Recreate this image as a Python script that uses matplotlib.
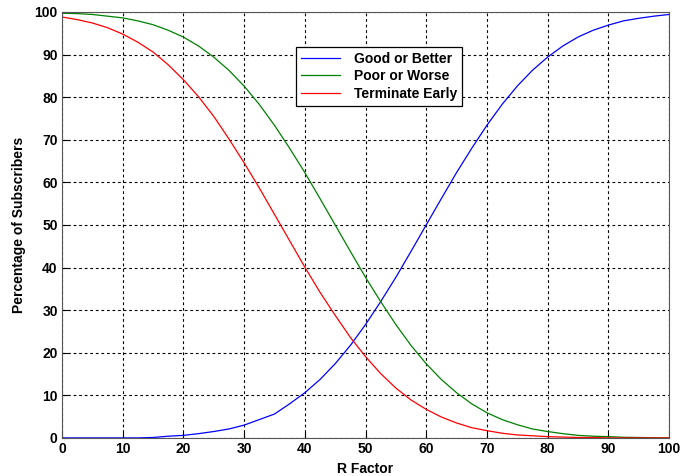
import matplotlib
matplotlib.use("Agg")
import matplotlib.pyplot as plt

plt.rcParams['font.family'] = ['Liberation Sans', 'DejaVu Sans']
plt.rcParams['font.weight'] = 'bold'

# values every 2.5 R units
r_factor = [0, 2.5, 5, 7.5, 10, 12.5, 15, 17.5, 20, 22.5, 25, 27.5, 30, 32.5,
            35, 37.5, 40, 42.5, 45, 47.5, 50, 52.5, 55, 57.5, 60, 62.5, 65,
            67.5, 70, 72.5, 75, 77.5, 80, 82.5, 85, 87.5, 90, 92.5, 95, 97.5, 100]
good_or_better = [0.0, 0.0, 0.0, 0.0, 0.0, 0.0, 0.1, 0.4, 0.6, 1.0, 1.5, 2.1, 3.0, 4.3,
                  5.6, 8.0, 10.6, 13.7, 17.4, 21.7, 26.6, 32.0, 37.7, 43.8, 50.0, 56.2, 62.3,
                  68.0, 73.4, 78.3, 82.6, 86.3, 89.4, 92.0, 94.1, 95.7, 96.9, 97.9, 98.5, 99.0, 99.4]
poor_or_worse = [99.7, 99.6, 99.4, 99.0, 98.6, 97.9, 97.0, 95.7, 94.1, 92.0, 89.4, 86.3, 82.6, 78.3,
                 73.4, 68.0, 62.3, 56.2, 50.0, 43.8, 37.7, 32.0, 26.6, 21.7, 17.4, 13.7, 10.6,
                 8.0, 5.9, 4.3, 3.1, 2.1, 1.5, 1.0, 0.6, 0.4, 0.3, 0.15, 0.1, 0.05, 0.0]
terminate_early = [98.8, 98.2, 97.4, 96.3, 94.8, 92.9, 90.6, 87.6, 84.1, 80.1, 75.5, 70.2, 64.6, 58.7,
                   52.5, 46.3, 40.1, 34.2, 28.8, 23.6, 19.1, 15.1, 11.7, 8.9, 6.7, 4.9, 3.5,
                   2.4, 1.7, 1.1, 0.7, 0.5, 0.3, 0.2, 0.1, 0.1, 0.0, 0.0, 0.0, 0.0, 0.0]

fig = plt.figure(figsize=(6.8, 4.76), dpi=100)
ax = fig.add_axes([0.091, 0.080, 0.893, 0.895])

ax.plot(r_factor, good_or_better, color='#0000ff', lw=0.9, label='Good or Better')
ax.plot(r_factor, poor_or_worse, color='#008000', lw=0.9, label='Poor or Worse')
ax.plot(r_factor, terminate_early, color='#ff0000', lw=0.9, label='Terminate Early')

ax.set_xlim(0, 100)
ax.set_ylim(0, 100)
ax.set_xticks(range(0, 101, 10))
ax.set_yticks(range(0, 101, 10))
ax.grid(True, color='black', linestyle=(0, (2.5, 2.5)), lw=0.8)
ax.tick_params(direction='in', length=4, labelsize=10, pad=3)
for s in ax.spines.values():
    s.set_color('#555555')

ax.set_xlabel('R Factor', fontsize=10, fontweight='bold', labelpad=4)
ax.set_ylabel('Percentage of Subscribers', fontsize=10, fontweight='bold', labelpad=6)

leg = ax.legend(loc='upper left', bbox_to_anchor=(0.386, 0.918), borderaxespad=0,
                fontsize=10, fancybox=False, framealpha=1, edgecolor='black',
                handlelength=2.8, handletextpad=1.0, borderpad=0.35, labelspacing=0.25)
leg.get_frame().set_linewidth(0.9)

fig.savefig('out.png', dpi=100)
